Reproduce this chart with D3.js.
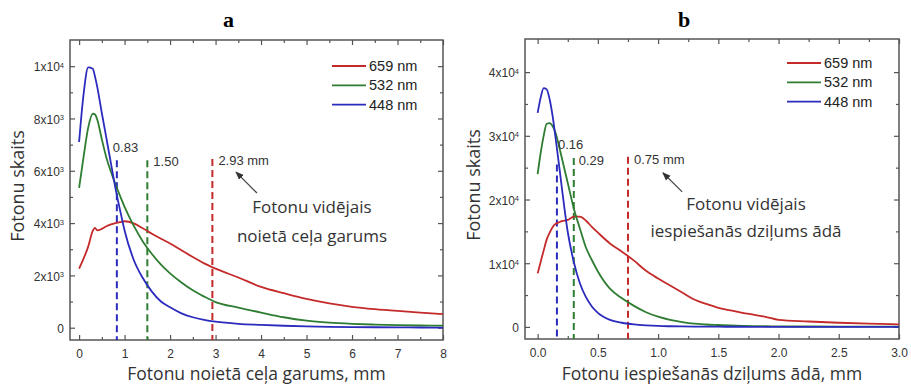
<!DOCTYPE html>
<html>
<head>
<meta charset="utf-8">
<script src="https://cdn.jsdelivr.net/npm/d3@7"></script>
<style>
  body { margin: 0; background: #fff; }
  svg { display: block; }
</style>
</head>
<body>
<svg id="chart" width="911" height="384"></svg>
<script>
// ---- data: panel a (path length) ----
const seriesNames = ['659 nm', '532 nm', '448 nm'];
const seriesColors = ['#c42a2a', '#2e7d32', '#2b2bbd'];

const lenX = [0, 0.1, 0.2, 0.3, 0.35, 0.4, 0.5, 0.6, 0.7, 0.8, 0.9, 1.0, 1.2, 1.4, 1.6, 1.8, 2.0, 2.25, 2.5, 2.75, 3.0, 3.5, 4.0, 4.5, 5.0, 5.5, 6.0, 6.5, 7.0, 7.5, 8.0];
const len659 = [2260, 2650, 3100, 3700, 3820, 3720, 3780, 3880, 3950, 4000, 4040, 4070, 3990, 3800, 3590, 3400, 3220, 2960, 2700, 2460, 2260, 1920, 1560, 1320, 1100, 930, 800, 710, 640, 580, 520];
const len532 = [5350, 6550, 7650, 8180, 8150, 7950, 7200, 6500, 5960, 5480, 5040, 4620, 3900, 3300, 2820, 2410, 2080, 1730, 1430, 1190, 980, 770, 580, 400, 270, 195, 150, 120, 95, 85, 80];
const len448 = [7100, 8950, 9950, 9900, 9600, 9200, 8200, 7250, 6280, 5330, 4500, 3720, 2600, 1900, 1380, 1000, 780, 550, 400, 300, 230, 150, 110, 75, 50, 35, 25, 18, 12, 8, 5];

const lenMeans = [2.93, 1.50, 0.83];
const lenMeanLabels = ['2.93 mm', '1.50', '0.83'];
const lenYTicks = [0, 2000, 4000, 6000, 8000, 10000];
const lenYTickLabels = [['0', ''], ['2x10', '3'], ['4x10', '3'], ['6x10', '3'], ['8x10', '3'], ['1x10', '4']];
const lenXTicks = [0, 1, 2, 3, 4, 5, 6, 7, 8];

// ---- data: panel b (penetration depth) ----
const depX = [0, 0.025, 0.05, 0.075, 0.1, 0.125, 0.15, 0.175, 0.2, 0.25, 0.3, 0.35, 0.4, 0.45, 0.5, 0.6, 0.7, 0.8, 0.9, 1.0, 1.1, 1.2, 1.3, 1.4, 1.5, 1.6, 1.7, 1.8, 1.9, 2.0, 2.25, 2.5, 2.75, 3.0];
const dep659 = [8400, 10200, 12000, 13700, 14800, 15700, 16200, 16400, 16600, 16800, 17300, 17300, 16700, 15700, 14800, 13100, 11800, 10400, 8800, 7600, 6500, 5400, 4300, 3600, 3000, 2600, 2200, 1900, 1550, 1100, 850, 650, 500, 400];
const dep532 = [24000, 27300, 30000, 31900, 32000, 31500, 30400, 28600, 26600, 22600, 18600, 15500, 12500, 10500, 8700, 6000, 4500, 3300, 2300, 1600, 1100, 750, 500, 380, 300, 220, 160, 120, 100, 80, 60, 50, 40, 30];
const dep448 = [33600, 36000, 37500, 37300, 35700, 33000, 29500, 25800, 22000, 14900, 10200, 6900, 4700, 3200, 2200, 1100, 650, 400, 250, 150, 100, 70, 50, 40, 30, 25, 20, 18, 15, 12, 10, 10, 10, 10];

const depMeans = [0.75, 0.30, 0.16];
const depMeanLabels = ['0.75 mm', '0.29', '0.16'];
const depYTicks = [0, 10000, 20000, 30000, 40000];
const depYTickLabels = [['0', ''], ['1x10', '4'], ['2x10', '4'], ['3x10', '4'], ['4x10', '4']];
const depXTicks = [0, 0.5, 1.0, 1.5, 2.0, 2.5, 3.0];

const panels = [
  {
    letter: 'a', left: 70, right: 443, top: 40, bottom: 340,
    xDomain: [-0.2, 8], yDomain: [-470, 11000],
    x: lenX, series: [len659, len532, len448],
    xTicks: lenXTicks, xMinor: d3.range(0.5, 8, 1), xFmt: d3.format('d'),
    yTicks: lenYTicks, yLabels: lenYTickLabels, yMinor: d3.range(1000, 11000, 2000),
    means: lenMeans, meanLabels: lenMeanLabels, meanTops: [6450, 6400, 6400],
    // label offsets relative to the top of each dashed line
    meanLabelOff: [[6, 6], [6, 6], [-4, -8]],
    arrow: [[3.91, 5150], [3.45, 5950]],
    note: ['Fotonu vidējais', 'noietā ceļa garums'], noteAt: [5.12, 4380], noteGap: 29,
    xTitle: 'Fotonu noietā ceļa garums, mm',
    legendX: 332, legendY: 66, yTitleX: 24
  },
  {
    letter: 'b', left: 525, right: 899, top: 39, bottom: 339,
    xDomain: [-0.105, 3.0], yDomain: [-1900, 45200],
    x: depX, series: [dep659, dep532, dep448],
    xTicks: depXTicks, xMinor: d3.range(0.25, 3, 0.5), xFmt: d3.format('.1f'),
    yTicks: depYTicks, yLabels: depYTickLabels, yMinor: d3.range(5000, 45000, 10000),
    means: depMeans, meanLabels: depMeanLabels, meanTops: [26700, 26500, 25500],
    meanLabelOff: [[6, 7], [5, 7], [1, -15]],
    arrow: [[1.2, 21200], [1.04, 24200]],
    note: ['Fotonu vidējais', 'iespiešanās dziļums ādā'], noteAt: [1.73, 18400], noteGap: 27,
    xTitle: 'Fotonu iespiešanās dziļums ādā, mm',
    legendX: 787, legendY: 63, yTitleX: 480
  }
];

const svg = d3.select('#chart');
const tickFont = '"Liberation Sans", Arial, sans-serif';
const titleFont = '"Open Sans", "Noto Sans", sans-serif';

svg.append('defs').append('marker')
  .attr('id', 'arrowhead')
  .attr('viewBox', '0 0 10 10')
  .attr('refX', 9).attr('refY', 5)
  .attr('markerWidth', 7).attr('markerHeight', 7)
  .attr('orient', 'auto')
  .append('path')
  .attr('d', 'M0,1 L10,5 L0,9 Z')
  .attr('fill', '#333');

panels.forEach((p) => {
  const xScale = d3.scaleLinear(p.xDomain, [p.left, p.right]);
  const yScale = d3.scaleLinear(p.yDomain, [p.bottom, p.top]);
  const g = svg.append('g');

  const styleAxis = (sel) => {
    sel.select('.domain').remove();
    sel.selectAll('.tick line').attr('stroke', '#555').attr('stroke-width', 1.2);
    sel.selectAll('.tick text').attr('fill', '#333').attr('font-family', tickFont).attr('font-size', 12);
  };

  // major + minor ticks on all four sides, pointing inward
  g.append('g').attr('transform', `translate(0,${p.bottom})`)
    .call(d3.axisBottom(xScale).tickValues(p.xTicks).tickSize(-5).tickPadding(9).tickFormat(p.xFmt))
    .call(styleAxis);
  g.append('g').attr('transform', `translate(0,${p.bottom})`)
    .call(d3.axisBottom(xScale).tickValues(p.xMinor).tickSize(-3).tickFormat(''))
    .call(styleAxis);
  g.append('g').attr('transform', `translate(0,${p.top})`)
    .call(d3.axisTop(xScale).tickValues(p.xTicks).tickSize(-5).tickFormat(''))
    .call(styleAxis);
  g.append('g').attr('transform', `translate(0,${p.top})`)
    .call(d3.axisTop(xScale).tickValues(p.xMinor).tickSize(-3).tickFormat(''))
    .call(styleAxis);

  const yAx = g.append('g').attr('transform', `translate(${p.left},0)`)
    .call(d3.axisLeft(yScale).tickValues(p.yTicks).tickSize(-5).tickPadding(6).tickFormat(''))
    .call(styleAxis);
  yAx.selectAll('.tick text').each(function (d, i) {
    const t = d3.select(this).attr('dy', '0.4em');
    const [base, sup] = p.yLabels[i];
    t.append('tspan').text(base);
    if (sup) t.append('tspan').attr('dy', '-0.5em').attr('font-size', 7.5).text(sup);
  });
  g.append('g').attr('transform', `translate(${p.left},0)`)
    .call(d3.axisLeft(yScale).tickValues(p.yMinor).tickSize(-3).tickFormat(''))
    .call(styleAxis);
  g.append('g').attr('transform', `translate(${p.right},0)`)
    .call(d3.axisRight(yScale).tickValues(p.yTicks).tickSize(-5).tickFormat(''))
    .call(styleAxis);
  g.append('g').attr('transform', `translate(${p.right},0)`)
    .call(d3.axisRight(yScale).tickValues(p.yMinor).tickSize(-3).tickFormat(''))
    .call(styleAxis);

  // frame
  g.append('rect')
    .attr('x', p.left).attr('y', p.top)
    .attr('width', p.right - p.left).attr('height', p.bottom - p.top)
    .attr('fill', 'none').attr('stroke', '#555').attr('stroke-width', 1.5);

  // dashed mean lines
  p.means.forEach((m, i) => {
    g.append('line')
      .attr('x1', xScale(m)).attr('x2', xScale(m))
      .attr('y1', yScale(p.meanTops[i])).attr('y2', p.bottom)
      .attr('stroke', seriesColors[i]).attr('stroke-width', 2)
      .attr('stroke-dasharray', '7,4');
  });

  // curves
  const line = d3.line()
    .x((d, i) => xScale(p.x[i]))
    .y((d) => yScale(d))
    .curve(d3.curveMonotoneX);
  p.series.forEach((s, i) => {
    g.append('path')
      .attr('d', line(s))
      .attr('fill', 'none')
      .attr('stroke', seriesColors[i])
      .attr('stroke-width', 1.8);
  });

  p.means.forEach((m, i) => {
    g.append('text')
      .attr('x', xScale(m) + p.meanLabelOff[i][0])
      .attr('y', yScale(p.meanTops[i]) + p.meanLabelOff[i][1])
      .attr('font-family', tickFont).attr('font-size', 13).attr('fill', '#333')
      .text(p.meanLabels[i]);
  });

  // arrow + note
  g.append('line')
    .attr('x1', xScale(p.arrow[0][0])).attr('y1', yScale(p.arrow[0][1]))
    .attr('x2', xScale(p.arrow[1][0])).attr('y2', yScale(p.arrow[1][1]))
    .attr('stroke', '#444').attr('stroke-width', 1.2)
    .attr('marker-end', 'url(#arrowhead)');
  p.note.forEach((t, i) => {
    g.append('text')
      .attr('x', xScale(p.noteAt[0]))
      .attr('y', yScale(p.noteAt[1]) + i * p.noteGap)
      .attr('text-anchor', 'middle')
      .attr('font-family', titleFont).attr('font-size', 17).attr('fill', '#333')
      .text(t);
  });

  // legend
  seriesNames.forEach((name, i) => {
    const ly = p.legendY + i * 19.3;
    g.append('line')
      .attr('x1', p.legendX).attr('x2', p.legendX + 34)
      .attr('y1', ly).attr('y2', ly)
      .attr('stroke', seriesColors[i]).attr('stroke-width', 1.8);
    g.append('text')
      .attr('x', p.legendX + 37).attr('y', ly + 5)
      .attr('font-family', tickFont).attr('font-size', 14.5).attr('fill', '#222')
      .text(name);
  });

  // axis titles
  g.append('text')
    .attr('x', (p.left + p.right) / 2).attr('y', 380)
    .attr('text-anchor', 'middle')
    .attr('font-family', titleFont).attr('font-size', 17.5).attr('fill', '#333')
    .text(p.xTitle);
  g.append('text')
    .attr('transform', `translate(${p.yTitleX},${(p.top + p.bottom) / 2 - 4}) rotate(-90)`)
    .attr('text-anchor', 'middle')
    .attr('font-family', titleFont).attr('font-size', 18).attr('fill', '#333')
    .text('Fotonu skaits');

  // panel letter
  g.append('text')
    .attr('x', (p.left + p.right) / 2 - 28).attr('y', 27)
    .attr('text-anchor', 'middle')
    .attr('font-family', '"Liberation Serif", "Times New Roman", serif')
    .attr('font-weight', 'bold').attr('font-size', 22).attr('fill', '#000')
    .text(p.letter);
});
</script>
</body>
</html>
